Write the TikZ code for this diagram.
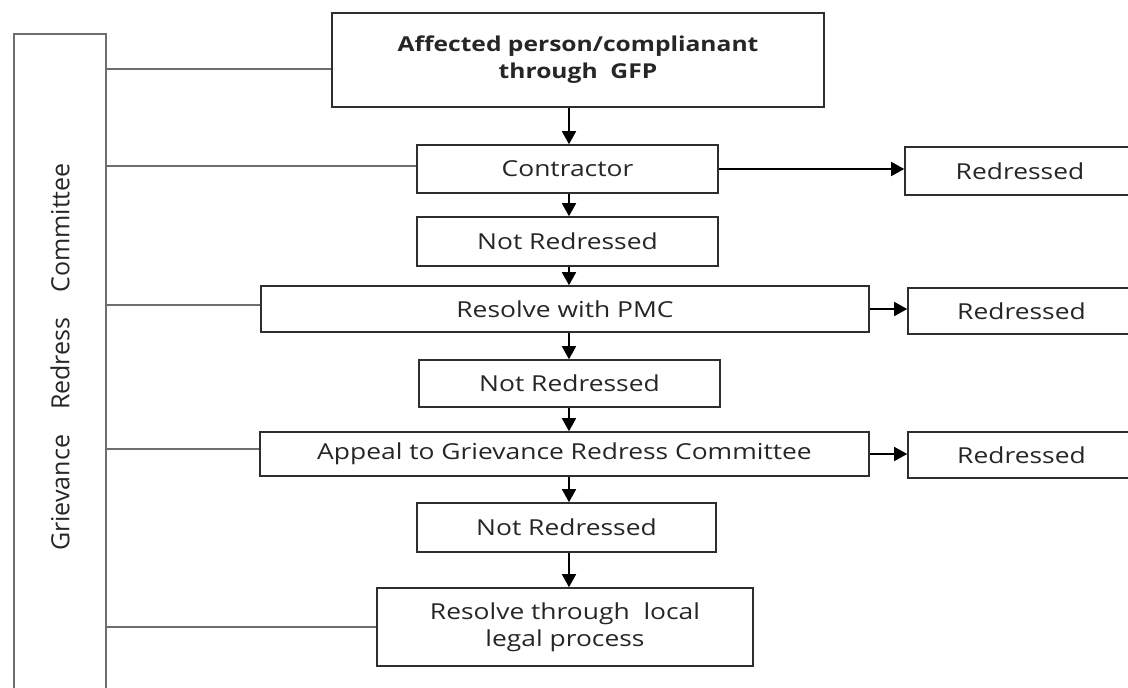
\documentclass[tikz,border=0pt]{standalone}
\usepackage{fontspec}
\setmainfont{Open Sans}[FakeStretch=1.2]
\newfontfamily\labfont{Open Sans}
\usetikzlibrary{arrows.meta}
\definecolor{boxline}{HTML}{2E2E2E}
\definecolor{barline}{HTML}{6E6E6E}
\definecolor{txt}{HTML}{262626}
\tikzset{
  box/.style={draw=boxline, line width=1.6pt, fill=white, inner sep=0pt, align=center,
              text=txt, font=\fontsize{22}{27}\selectfont},
  arr/.style={draw=black, line width=1.6pt, -{Triangle[length=13pt,width=14pt]}},
  link/.style={draw=barline, line width=1.1pt},
}
\begin{document}
\begin{tikzpicture}[x=1pt,y=-1pt]
\useasboundingbox (0,0) rectangle (1128,688);
\fill[white] (0,0) rectangle (1128,688);
% vertical side bar (open below the picture)
\node[draw=barline, line width=2.4pt, minimum width=92pt, minimum height=700pt, anchor=north west, inner sep=0pt] (bar) at (13,33) {};
\node[rotate=90, text=txt, font=\labfont\fontsize{25}{30}\selectfont] (lab) at (60,357) {Grievance\hspace{25pt}Redress\hspace{25pt}Committee};
% process boxes
\node[box, minimum width=492pt, minimum height=94pt, font=\bfseries\fontsize{20.5}{27}\selectfont] (top) at (578,60) {Affected person/complianant\\through\ \ GFP};
\node[box, minimum width=301pt, minimum height=48pt] (con) at (567.5,169) {Contractor};
\node[box, minimum width=301pt, minimum height=49pt] (nr1) at (567.5,241.5) {Not Redressed};
\node[box, minimum width=608pt, minimum height=46pt] (pmc) at (565,309) {Resolve with PMC};
\node[box, minimum width=301pt, minimum height=47pt] (nr2) at (569.5,383.5) {Not Redressed};
\node[box, minimum width=609pt, minimum height=44pt] (app) at (564.5,454) {Appeal to Grievance Redress Committee};
\node[box, minimum width=299pt, minimum height=49pt] (nr3) at (566.5,527.5) {Not Redressed};
\node[box, minimum width=376pt, minimum height=78pt] (leg) at (565,627) {Resolve through\ \ local\\legal process};
\node[box, minimum width=230pt, minimum height=48pt] (r1) at (1020,171) {Redressed};
\node[box, minimum width=227pt, minimum height=46pt] (r2) at (1021.5,311) {Redressed};
\node[box, minimum width=227pt, minimum height=46pt] (r3) at (1021.5,455) {Redressed};
% axis of the vertical arrows
\coordinate (ax) at (569,0);
\draw[arr] (top.south -| ax) -- (con.north -| ax);
\draw[arr] (con.south -| ax) -- (nr1.north -| ax);
\draw[arr] (nr1.south -| ax) -- (pmc.north -| ax);
\draw[arr] (pmc.south -| ax) -- (nr2.north -| ax);
\draw[arr] (nr2.south -| ax) -- (app.north -| ax);
\draw[arr] (app.south -| ax) -- (nr3.north -| ax);
\draw[arr] (nr3.south -| ax) -- (leg.north -| ax);
% to the redressed boxes
\draw[arr] (con.east) -- (con.east -| r1.west);
\draw[arr] (pmc.east) -- (pmc.east -| r2.west);
\draw[arr] (app.east) -- (app.east -| r3.west);
% links from the side bar
\draw[link] (bar.east |- top.west) ++(0,9) -- ([yshift=-9pt]top.west);
\draw[link] ([yshift=3pt]con.west -| bar.east) -- ([yshift=3pt]con.west);
\draw[link] ([yshift=4pt]pmc.west -| bar.east) -- ([yshift=4pt]pmc.west);
\draw[link] ([yshift=5pt]app.west -| bar.east) -- ([yshift=5pt]app.west);
\draw[link] (leg.west -| bar.east) -- (leg.west);
\end{tikzpicture}
\end{document}
